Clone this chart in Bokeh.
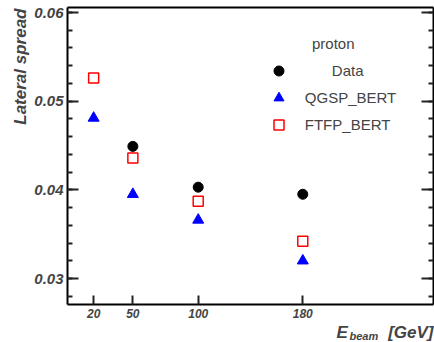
import math
import numpy as np
from bokeh.plotting import figure
from bokeh.models import FixedTicker, LinearAxis, Label, Legend, LegendItem, Range1d
from bokeh.embed import file_html
from bokeh.resources import INLINE

# ---- data ----
energies_data = [50, 100, 180]
spread_data = [0.0449, 0.0403, 0.0395]
energies_mc = [20, 50, 100, 180]
spread_qgsp = [0.0481, 0.0395, 0.0366, 0.0320]
spread_ftfp = [0.0526, 0.0436, 0.0387, 0.0342]

x_ticks = [20, 50, 100, 180]
x_tick_labels = ["20", "50", "100", "180"]
y_ticks = [0.03, 0.04, 0.05, 0.06]
y_tick_labels = ["0.03", "0.04", "0.05", "0.06"]
series_names = ["Data", "QGSP_BERT", "FTFP_BERT"]
legend_title = "proton"
x_title, x_title_sub, x_title_unit = "E", "beam", "[GeV]"
y_title = "Lateral spread"

# ---- layout (page pixels) ----
FONT = "Liberation Sans"
W, H = 434, 342
BOX_L, BOX_R, BOX_T, BOX_B = 67, 433, 7, 304
X_LO, X_HI = 0, 280
PPU_X = (BOX_R - BOX_L) / (X_HI - X_LO)
PPU_Y = (278 - 12) / (0.06 - 0.03)          # 0.06 at y=12, 0.03 at y=278
Y_HI = 0.06 + (12 - BOX_T) / PPU_Y
Y_LO = 0.03 - (BOX_B - 278) / PPU_Y

def px_x(px):
    return X_LO + (px - BOX_L) / PPU_X

def px_y(py):
    return Y_HI - (py - BOX_T) / PPU_Y

p = figure(width=W, height=H, output_backend="svg", toolbar_location=None,
           x_range=Range1d(px_x(0), px_x(W)), y_range=Range1d(px_y(H), px_y(0)),
           min_border=0)
p.grid.visible = False
p.outline_line_color = None
p.background_fill_color = "white"
p.border_fill_color = "white"

TICK_COLOR = "#222222"

def style_axis(ax):
    ax.axis_line_width = 2
    ax.axis_line_color = "black"
    ax.major_tick_out = 0
    ax.minor_tick_out = 0
    ax.major_tick_line_width = 2
    ax.minor_tick_line_width = 2
    ax.major_tick_line_color = TICK_COLOR
    ax.minor_tick_line_color = TICK_COLOR

# bottom axis
xa = p.xaxis[0]
style_axis(xa)
xa.fixed_location = Y_LO
xa.bounds = (X_LO, X_HI)
xa.ticker = FixedTicker(ticks=x_ticks, minor_ticks=[])
xa.major_label_overrides = {t: l for t, l in zip(x_ticks, x_tick_labels)}
xa.major_tick_in = 9
xa.minor_tick_in = 0
xa.major_label_standoff = 4
xa.major_label_text_font = FONT
xa.major_label_text_font_size = "12px"
xa.major_label_text_font_style = "bold italic"

minor_y = [round(v, 3) for v in np.arange(0.028, 0.0605, 0.002)]

# left axis
ya = p.yaxis[0]
style_axis(ya)
ya.fixed_location = X_LO
ya.bounds = (Y_LO, Y_HI)
ya.ticker = FixedTicker(ticks=y_ticks, minor_ticks=minor_y)
ya.major_label_overrides = {t: l for t, l in zip(y_ticks, y_tick_labels)}
ya.major_tick_in = 11
ya.minor_tick_in = 5
ya.major_label_standoff = 4
ya.major_label_text_font = FONT
ya.major_label_text_font_size = "15px"
ya.major_label_text_font_style = "bold italic"

# right axis (ticks only)
ra = LinearAxis(ticker=FixedTicker(ticks=y_ticks, minor_ticks=minor_y),
                fixed_location=X_HI, bounds=(Y_LO, Y_HI))
style_axis(ra)
ra.major_label_overrides = {t: "" for t in y_ticks}
ra.major_tick_in = 12
ra.minor_tick_in = 5
p.add_layout(ra, "right")

# top frame line
ta = LinearAxis(ticker=FixedTicker(ticks=[], minor_ticks=[]),
                fixed_location=Y_HI, bounds=(X_LO, X_HI))
style_axis(ta)
ta.major_tick_in = 0
ta.minor_tick_in = 0
p.add_layout(ta, "above")

# data
r_data = p.scatter(energies_data, spread_data, marker="circle", size=10,
                   fill_color="black", line_color="black")
r_q = p.scatter(energies_mc, spread_qgsp, marker="triangle", size=11,
                fill_color="#0000ff", line_color="#0000ff")
r_f = p.scatter(energies_mc, spread_ftfp, marker="square", size=10,
                fill_color=None, line_color="#ff0000", line_width=1.5)

common = dict(border_line_alpha=0, background_fill_alpha=0, padding=0, margin=0,
              spacing=2, glyph_width=25, glyph_height=25, label_height=25,
              label_text_font=FONT, label_text_font_size="15px")
leg1 = Legend(items=[LegendItem(label=series_names[0], renderers=[r_data])],
              location=(265.8, H - 83), label_standoff=41, **common)
leg2 = Legend(items=[LegendItem(label=series_names[1], renderers=[r_q]),
                     LegendItem(label=series_names[2], renderers=[r_f])],
              location=(265.8, H - 137.2), label_standoff=14, **common)
p.add_layout(leg1)
p.add_layout(leg2)

p.add_layout(Label(x=px_x(311.5), y=px_y(43), text=legend_title, text_font=FONT,
                   text_font_size="15px", text_baseline="middle"))

p.add_layout(Label(x=px_x(19.5), y=px_y(8), text=y_title, angle=math.pi / 2,
                   text_align="right", text_baseline="alphabetic", text_font=FONT,
                   text_font_size="17px", text_font_style="bold italic"))

p.add_layout(Label(x=px_x(336), y=px_y(332), text=x_title, text_font=FONT,
                   text_font_size="17px", text_font_style="bold italic",
                   text_baseline="alphabetic"))
p.add_layout(Label(x=px_x(349), y=px_y(335.5), text=x_title_sub, text_font=FONT,
                   text_font_size="11px", text_font_style="bold italic",
                   text_baseline="alphabetic"))
p.add_layout(Label(x=px_x(433), y=px_y(332), text=x_title_unit, text_font=FONT,
                   text_font_size="17px", text_font_style="bold italic",
                   text_align="right", text_baseline="alphabetic"))

open("out.html", "w").write(file_html(p, INLINE))
